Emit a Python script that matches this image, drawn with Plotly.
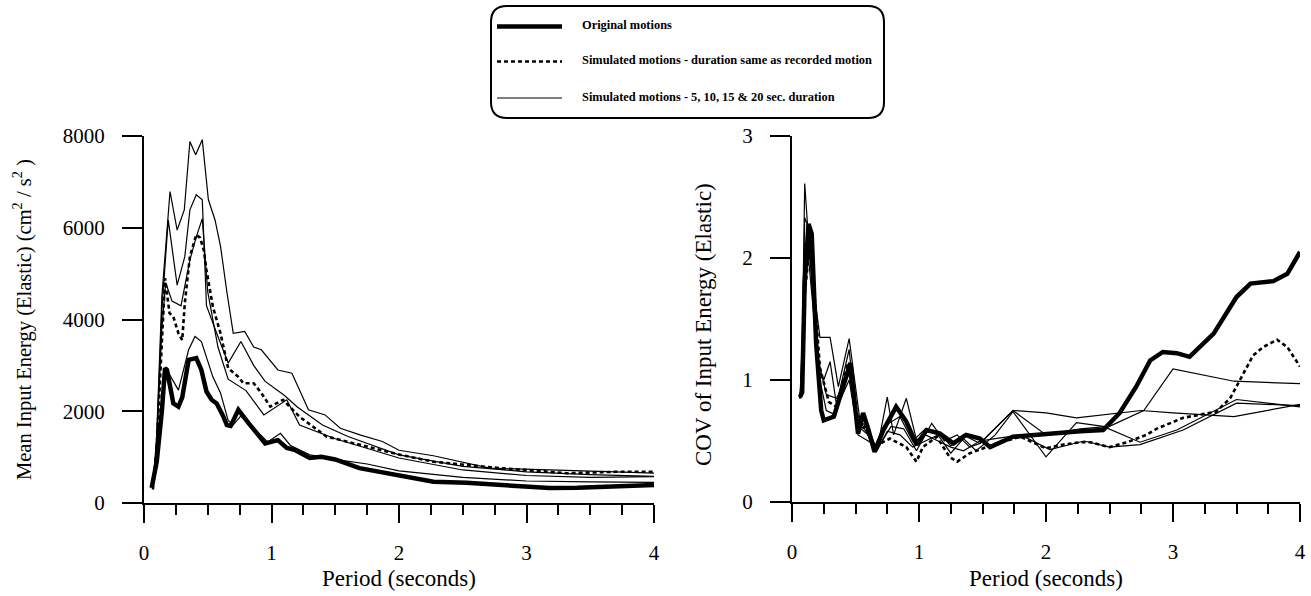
import plotly.graph_objects as go

# ---------------- DATA ----------------
# Left panel: Mean Input Energy (Elastic) (cm^2/s^2) vs Period (s)
orig_T = [0.06,0.10,0.14,0.165,0.18,0.23,0.27,0.30,0.35,0.41,0.45,0.49,0.53,0.57,0.62,0.65,0.68,0.74,0.82,0.88,0.95,1.05,1.12,1.18,1.30,1.39,1.50,1.69,1.85,2.01,2.27,2.53,2.79,3.0,3.18,3.4,3.58,3.8,4.0]
orig_E = [330,900,2000,2940,2900,2170,2100,2300,3120,3160,2900,2430,2250,2170,1900,1700,1680,2030,1740,1550,1300,1370,1200,1160,980,1010,950,760,680,575,465,440,390,350,325,330,355,370,390]

simd_T = [0.07,0.10,0.14,0.165,0.20,0.23,0.27,0.30,0.32,0.36,0.41,0.44,0.47,0.49,0.54,0.60,0.66,0.74,0.78,0.86,0.92,0.99,1.09,1.22,1.43,1.75,2.01,2.27,2.79,3.32,3.7,4.0]
simd_E = [300,1200,3500,4900,4140,4060,3700,3550,4360,5370,5850,5780,5500,5080,4280,3700,2940,2750,2610,2610,2400,2100,2250,1880,1450,1230,1050,900,760,650,680,680]

simA_T = [0.07,0.10,0.14,0.17,0.204,0.26,0.316,0.36,0.405,0.457,0.505,0.557,0.60,0.65,0.70,0.79,0.86,0.92,1.05,1.16,1.29,1.42,1.54,1.70,1.87,2.0,2.27,2.71,3.0,3.32,3.7,4.0]
simA_E = [300,1500,4500,5600,6790,5950,6390,7880,7590,7920,6610,6170,5600,4600,3700,3740,3400,3340,2900,2830,2030,1920,1630,1480,1340,1150,1030,760,740,720,680,650]

simB_T = [0.07,0.10,0.14,0.19,0.26,0.32,0.36,0.41,0.457,0.49,0.57,0.66,0.76,0.86,0.95,1.1,1.2,1.4,1.6,2.0,2.5,3.0,3.5,4.0]
simB_E = [300,1400,4200,6170,4750,5370,6390,6720,6610,4300,3700,3050,3520,3000,2650,2350,2100,1700,1450,1050,800,680,620,580]

simC_T = [0.07,0.10,0.14,0.17,0.22,0.29,0.36,0.41,0.457,0.50,0.58,0.66,0.80,0.94,1.12,1.22,1.5,1.8,2.0,2.5,3.0,3.5,4.0]
simC_E = [300,1300,3800,4800,4400,4300,5300,5800,6200,4600,3400,2700,2450,1920,2250,1700,1400,1150,980,720,600,560,575]

simD_T = [0.07,0.10,0.14,0.18,0.27,0.35,0.40,0.45,0.54,0.60,0.66,0.70,0.76,0.85,0.97,1.07,1.15,1.3,1.5,1.75,2.0,2.5,3.0,3.5,4.0]
simD_E = [300,1000,2300,2900,2460,3340,3630,3520,2750,2400,1800,1700,1900,1650,1330,1520,1250,1050,950,850,700,560,480,460,450]

# Right panel: COV of Input Energy (Elastic) vs Period (s)
corig_T = [0.063,0.08,0.10,0.13,0.155,0.19,0.23,0.25,0.33,0.40,0.46,0.52,0.56,0.60,0.65,0.72,0.82,0.90,0.98,1.06,1.165,1.27,1.37,1.48,1.56,1.74,2.0,2.27,2.45,2.58,2.71,2.82,2.92,3.03,3.13,3.24,3.32,3.50,3.61,3.79,3.90,4.0]
corig_C = [0.86,0.90,1.8,2.28,2.2,1.3,0.75,0.67,0.70,0.95,1.14,0.56,0.73,0.6,0.41,0.59,0.78,0.66,0.47,0.59,0.56,0.48,0.55,0.52,0.45,0.535,0.56,0.58,0.59,0.73,0.945,1.16,1.23,1.22,1.19,1.30,1.38,1.68,1.79,1.81,1.87,2.05]

csimd_T = [0.063,0.08,0.10,0.14,0.17,0.22,0.29,0.35,0.44,0.535,0.58,0.64,0.77,0.90,0.98,1.03,1.14,1.24,1.30,1.40,1.61,1.80,2.0,2.13,2.27,2.35,2.50,2.64,2.79,2.87,3.08,3.34,3.45,3.55,3.63,3.71,3.82,3.90,4.0]
csimd_C = [0.85,0.95,1.7,2.12,1.8,1.1,0.82,0.78,1.14,0.59,0.62,0.45,0.52,0.45,0.33,0.45,0.535,0.37,0.33,0.40,0.48,0.535,0.44,0.47,0.49,0.49,0.45,0.49,0.55,0.60,0.69,0.74,0.85,1.05,1.20,1.27,1.33,1.27,1.11]

csim1_T = [0.063,0.08,0.10,0.14,0.22,0.30,0.365,0.45,0.535,0.60,0.67,0.75,0.80,0.90,0.98,1.05,1.10,1.20,1.30,1.40,1.48,1.74,2.0,2.27,2.50,2.77,3.0,3.48,4.0]
csim1_C = [0.85,1.2,2.61,2.0,1.35,1.35,0.945,1.34,0.67,0.6,0.43,0.86,0.55,0.85,0.51,0.55,0.645,0.5,0.55,0.45,0.48,0.75,0.55,0.6,0.62,0.75,1.09,0.99,0.97]

csim2_T = [0.063,0.08,0.10,0.13,0.20,0.25,0.30,0.35,0.45,0.50,0.56,0.65,0.72,0.85,0.95,1.05,1.15,1.25,1.35,1.48,1.74,2.0,2.24,2.5,2.75,3.0,3.48,4.0]
csim2_C = [0.85,1.3,2.33,2.25,1.1,1.0,1.15,0.8,1.25,0.75,0.62,0.45,0.62,0.70,0.50,0.60,0.58,0.46,0.55,0.48,0.75,0.73,0.69,0.72,0.75,0.73,0.70,0.80]

csim3_T = [0.063,0.08,0.10,0.13,0.20,0.27,0.35,0.45,0.52,0.60,0.67,0.75,0.85,0.95,1.05,1.15,1.25,1.35,1.45,1.6,1.74,2.0,2.24,2.45,2.74,3.03,3.50,4.0]
csim3_C = [0.85,1.1,2.12,2.0,1.2,0.88,0.85,1.05,0.62,0.55,0.42,0.58,0.55,0.45,0.50,0.55,0.40,0.52,0.42,0.55,0.74,0.37,0.65,0.62,0.49,0.59,0.84,0.78]

csim4_T = [0.063,0.08,0.11,0.14,0.20,0.27,0.33,0.45,0.52,0.60,0.68,0.78,0.88,0.98,1.05,1.15,1.25,1.35,1.48,1.6,1.8,2.03,2.3,2.5,2.74,3.08,3.50,4.0]
csim4_C = [0.85,1.0,2.0,2.05,1.1,0.75,0.72,1.0,0.55,0.5,0.45,0.62,0.6,0.42,0.55,0.5,0.45,0.42,0.5,0.52,0.55,0.43,0.50,0.45,0.47,0.59,0.81,0.79]

left_yticks = [0, 2000, 4000, 6000, 8000]
right_yticks = [0, 1, 2, 3]
xticks = [0, 1, 2, 3, 4]

legend_labels = ["Original motions",
                 "Simulated motions - duration same as recorded motion",
                 "Simulated motions - 5, 10, 15 & 20 sec. duration"]

# ---------------- FIGURE ----------------
W, H = 1311, 596
FONT = "Liberation Serif"


def fx(px):
    return px / W


def fy(py):
    return 1 - py / H


THICK = dict(color="black", width=4.5)
DASH = dict(color="black", width=2.6, dash="4px,3px")
THIN = dict(color="black", width=1.2)

fig = go.Figure()


def add(x, y, line, xa, ya):
    fig.add_trace(go.Scatter(x=x, y=y, mode="lines", line=line,
                             xaxis=xa, yaxis=ya, showlegend=False,
                             hoverinfo="skip"))


for (x, y) in [(simA_T, simA_E), (simB_T, simB_E), (simC_T, simC_E), (simD_T, simD_E)]:
    add(x, y, THIN, "x", "y")
add(simd_T, simd_E, DASH, "x", "y")
add(orig_T, orig_E, THICK, "x", "y")

for (x, y) in [(csim1_T, csim1_C), (csim2_T, csim2_C), (csim3_T, csim3_C), (csim4_T, csim4_C)]:
    add(x, y, THIN, "x2", "y2")
add(csimd_T, csimd_C, DASH, "x2", "y2")
add(corig_T, corig_C, THICK, "x2", "y2")

tickfont = dict(family=FONT, size=21, color="black")

xcommon = dict(range=[0, 4], tickvals=xticks, showline=True, linecolor="black",
               linewidth=2, ticks="outside", ticklen=18, tickwidth=2,
               tickcolor="black", showgrid=False, zeroline=False,
               tickfont=tickfont, ticklabelstandoff=12, automargin=False,
               minor=dict(ticks="outside", ticklen=10, tickwidth=2,
                          tickcolor="black", dtick=0.25, showgrid=False))
ycommon = dict(showline=True, linecolor="black", linewidth=2, ticks="outside",
               ticklen=20, tickwidth=2, tickcolor="black", showgrid=False,
               zeroline=False, tickfont=tickfont, ticklabelstandoff=13,
               automargin=False)

fig.update_layout(
    width=W, height=H,
    margin=dict(l=0, r=0, t=0, b=0, pad=0),
    paper_bgcolor="white", plot_bgcolor="white",
    xaxis=dict(domain=[fx(144), fx(654)], anchor="y", **xcommon),
    yaxis=dict(domain=[fy(503), fy(136)], anchor="x", range=[0, 8000],
               tickvals=left_yticks, **ycommon),
    xaxis2=dict(domain=[fx(792), fx(1300)], anchor="y2", **xcommon),
    yaxis2=dict(domain=[fy(502), fy(136)], anchor="x2", range=[0, 3],
                tickvals=right_yticks, **ycommon),
    font=dict(family=FONT, color="black"),
)

ann = []
ann.append(dict(text="Period (seconds)", x=fx(399), y=fy(578), xref="paper",
                yref="paper", showarrow=False,
                font=dict(family=FONT, size=23, color="black"),
                xanchor="center", yanchor="middle"))
ann.append(dict(text="Period (seconds)", x=fx(1046), y=fy(578), xref="paper",
                yref="paper", showarrow=False,
                font=dict(family=FONT, size=23, color="black"),
                xanchor="center", yanchor="middle"))
ann.append(dict(text="Mean Input Energy (Elastic) (cm<sup>2</sup> / s<sup>2</sup> )",
                x=fx(22), y=fy(320), xref="paper", yref="paper",
                showarrow=False, font=dict(family=FONT, size=20.5, color="black"),
                textangle=-90, xanchor="center", yanchor="middle"))
ann.append(dict(text="COV of Input Energy (Elastic)",
                x=fx(703), y=fy(325), xref="paper", yref="paper",
                showarrow=False, font=dict(family=FONT, size=23, color="black"),
                textangle=-90, xanchor="center", yanchor="middle"))

# Legend box (rounded rectangle) built as shapes + annotations
bx0, bx1, by0, by1, r = 491, 884, 6, 118, 16
path = (f"M {fx(bx0 + r)},{fy(by0)} L {fx(bx1 - r)},{fy(by0)} "
        f"Q {fx(bx1)},{fy(by0)} {fx(bx1)},{fy(by0 + r)} "
        f"L {fx(bx1)},{fy(by1 - r)} Q {fx(bx1)},{fy(by1)} {fx(bx1 - r)},{fy(by1)} "
        f"L {fx(bx0 + r)},{fy(by1)} Q {fx(bx0)},{fy(by1)} {fx(bx0)},{fy(by1 - r)} "
        f"L {fx(bx0)},{fy(by0 + r)} Q {fx(bx0)},{fy(by0)} {fx(bx0 + r)},{fy(by0)} Z")
shapes = [dict(type="path", path=path, xref="paper", yref="paper",
               line=dict(color="black", width=2), fillcolor="white", layer="above")]
rows = [26.5, 61.5, 98]
styles = [THICK, DASH, THIN]
for ry, st, lab in zip(rows, styles, legend_labels):
    shapes.append(dict(type="line", xref="paper", yref="paper",
                       x0=fx(497), x1=fx(562), y0=fy(ry), y1=fy(ry),
                       line=st, layer="above"))
    ann.append(dict(text="<b>" + lab + "</b>", x=fx(580), y=fy(ry - 1),
                    xref="paper", yref="paper", showarrow=False,
                    font=dict(family=FONT, size=12.4, color="black"),
                    xanchor="left", yanchor="middle"))

fig.update_layout(annotations=ann, shapes=shapes)
fig.write_html("out.html", config={"displayModeBar": False},
               post_script="document.body.style.margin='0';"
                           "document.body.style.overflow='hidden';")
